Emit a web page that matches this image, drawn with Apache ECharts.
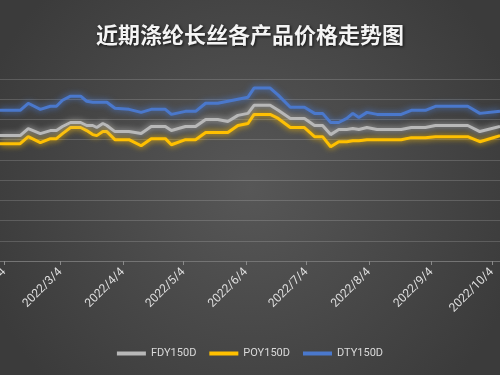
<!DOCTYPE html>
<html>
<head>
<meta charset="utf-8">
<script src="https://cdn.jsdelivr.net/npm/echarts@6/dist/echarts.min.js"></script>
<style>html,body{margin:0;padding:0;background:#444;}#c{width:500px;height:375px;}</style>
</head>
<body>
<div id="c"></div>
<script>
var titleText = '近期涤纶长丝各产品价格走势图';
var seriesNames = ['FDY150D', 'POY150D', 'DTY150D'];
var dates = ['2022-02-02','2022-02-12','2022-02-16','2022-02-22','2022-02-27','2022-03-02','2022-03-05','2022-03-09','2022-03-14','2022-03-17','2022-03-20','2022-03-22','2022-03-25','2022-03-27','2022-03-31','2022-04-07','2022-04-13','2022-04-18','2022-04-25','2022-04-28','2022-05-05','2022-05-10','2022-05-15','2022-05-21','2022-05-26','2022-05-31','2022-06-05','2022-06-08','2022-06-16','2022-06-20','2022-06-26','2022-07-03','2022-07-08','2022-07-12','2022-07-16','2022-07-20','2022-07-24','2022-07-27','2022-07-30','2022-08-03','2022-08-08','2022-08-20','2022-08-25','2022-09-01','2022-09-06','2022-09-22','2022-09-28','2022-10-08'];
var fdy = [8200,8200,8550,8300,8450,8450,8650,8850,8850,8700,8700,8600,8800,8700,8400,8400,8300,8650,8650,8450,8650,8650,9000,9000,8900,9200,9300,9700,9700,9450,9050,9050,8700,8700,8250,8500,8500,8550,8500,8600,8500,8500,8600,8600,8700,8700,8400,8650];
var poy = [7800,7800,8150,7850,8050,8050,8300,8600,8600,8450,8250,8200,8400,8400,8000,8000,7700,8050,8050,7750,8000,8000,8350,8350,8350,8700,8800,9250,9250,9050,8600,8600,8150,8150,7650,7900,7900,7950,7950,8000,8000,8000,8100,8100,8150,8150,7900,8200];
var dty = [9450,9450,9800,9500,9650,9650,9950,10150,10150,9900,9850,9850,9850,9850,9550,9500,9350,9500,9500,9250,9400,9400,9800,9800,9900,10000,10100,10550,10550,10200,9600,9600,9300,9300,8850,8850,9050,9300,9100,9350,9250,9250,9450,9450,9650,9650,9300,9400];
var tickDates = ['2022-02-04','2022-03-04','2022-04-04','2022-05-04','2022-06-04','2022-07-04','2022-08-04','2022-09-04','2022-10-04'];

function ts(s){ var p = s.split('-'); return new Date(+p[0], +p[1] - 1, +p[2]).getTime(); }
var chart = echarts.init(document.getElementById('c'), null, {renderer: 'canvas'});
function pairs(vals){ return dates.map(function(d,i){ return [ts(d), vals[i]]; }); }
var tickVals = tickDates.map(ts);
var colors = ['#b8b8b8', '#ffc000', '#4a78cc'];
var seriesVals = [fdy, poy, dty];

chart.setOption({
  animation: false,
  backgroundColor: {
    type: 'radial', x: 0.5, y: 0.5, r: 0.75,
    colorStops: [{offset: 0, color: '#575757'}, {offset: 1, color: '#3b3b3b'}]
  },
  title: {
    text: titleText, left: 'center', top: 19,
    textStyle: {
      color: '#f4f4f4', fontSize: 22, fontWeight: 'bold',
      fontFamily: 'Noto Sans CJK SC',
      textShadowColor: 'rgba(0,0,0,0.8)', textShadowBlur: 3, textShadowOffsetX: 1, textShadowOffsetY: 1
    }
  },
  legend: {
    data: seriesNames, bottom: 11, left: 'center',
    icon: 'rect', itemWidth: 29, itemHeight: 4, itemGap: 13,
    textStyle: {color: '#d9d9d9', fontSize: 11, fontFamily: 'Roboto'}
  },
  grid: {left: 0, right: 0, top: 79, bottom: 114, containLabel: false, outerBoundsMode: 'none'},
  xAxis: {
    type: 'value',
    min: ts('2022-02-02'),
    max: ts('2022-10-08'),
    axisLine: {show: true, lineStyle: {color: '#747474', width: 1}},
    axisTick: {show: true, customValues: tickVals, length: 4, lineStyle: {color: '#8a8a8a'}},
    axisLabel: {
      customValues: tickVals, rotate: 45, margin: 9,
      color: '#dedede', fontSize: 12, fontFamily: 'Roboto',
      formatter: function (v) { var d = new Date(v); return d.getFullYear() + '/' + (d.getMonth() + 1) + '/' + d.getDate(); }
    },
    splitLine: {show: false}
  },
  yAxis: {
    type: 'value', min: 2000, max: 11000, interval: 1000,
    axisLabel: {show: false}, axisLine: {show: false}, axisTick: {show: false},
    splitLine: {lineStyle: {color: 'rgba(255,255,255,0.16)', width: 1}}
  },
  series: seriesNames.map(function (n, i) {
    return {
      name: n, type: 'line', data: pairs(seriesVals[i]), symbol: 'none', smooth: false,
      color: colors[i],
      itemStyle: {color: colors[i]},
      lineStyle: {width: 3, color: colors[i], shadowColor: colors[i], shadowBlur: 6},
      z: 3 - i
    };
  })
});
</script>
</body>
</html>
